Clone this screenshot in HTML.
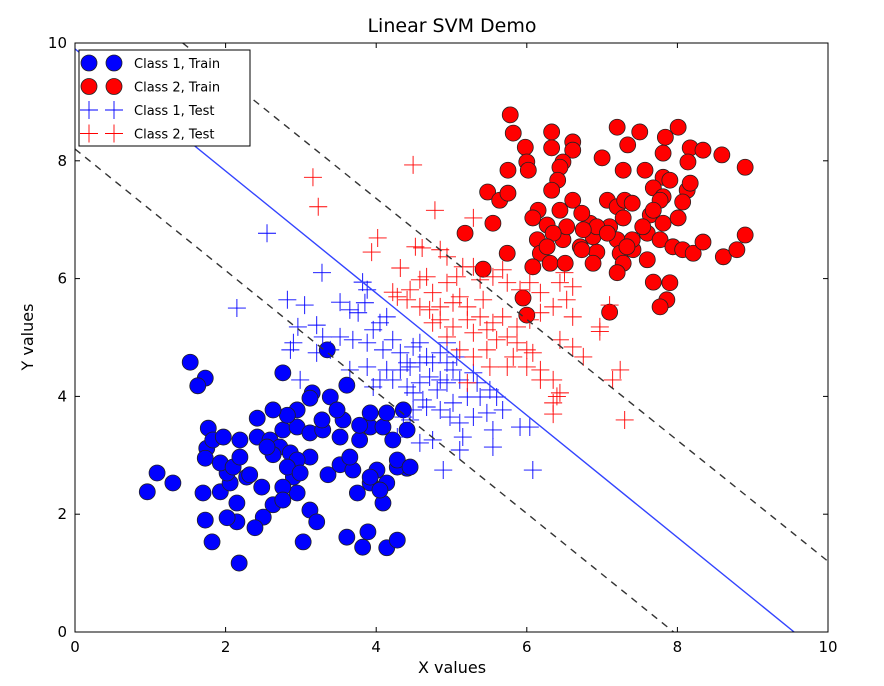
<!DOCTYPE html>
<html><head><meta charset="utf-8"><style>
body{margin:0;background:#fff;}
svg text{font-family:"DejaVu Sans","Liberation Sans",sans-serif;}
</style></head><body>
<svg id="chart" width="884" height="681" xmlns="http://www.w3.org/2000/svg">
<rect width="884" height="681" fill="#fff"/>
<g id="plot"></g>
<g id="axes"></g>
</svg>
<script>
const xTicks=[0,2,4,6,8,10];
const yTicks=[0,2,4,6,8,10];
const c1TrainX=[1.53,1.73,1.63,2.76,3.35,3.61,3.15,3.39,1.09,0.96,1.30,1.77,1.75,1.73,1.70,1.73,1.82,2.18,3.03,3.61,3.89,3.82,4.14,4.28,4.09,3.75,3.92,4.14,4.41,4.28,4.01,3.36,3.52,3.69,3.65,3.12,2.90,2.95,3.12,3.21,2.63,2.50,2.39,2.15,2.02,2.15,1.93,2.06,2.28,2.48,2.02,1.93,2.10,2.19,1.83,1.97,2.19,2.42,2.59,2.76,2.95,3.12,3.29,3.52,3.78,3.92,4.09,4.22,4.41,4.36,4.14,3.92,3.78,3.56,3.48,3.28,3.12,2.95,2.82,2.63,2.42,2.72,2.86,2.63,2.55,2.95,2.82,2.76,2.99,2.32,4.28,4.45,4.05,2.76,3.92];
const c1TrainY=[4.58,4.31,4.18,4.40,4.79,4.19,4.06,3.99,2.70,2.38,2.53,3.46,3.12,2.95,2.36,1.90,1.53,1.17,1.53,1.61,1.70,1.44,1.43,1.56,2.19,2.36,2.53,2.53,2.78,2.80,2.75,2.67,2.84,2.75,2.97,2.97,2.63,2.36,2.07,1.87,2.16,1.95,1.77,1.87,1.94,2.19,2.38,2.53,2.63,2.46,2.70,2.87,2.80,2.97,3.26,3.31,3.26,3.31,3.26,3.43,3.48,3.38,3.43,3.31,3.26,3.48,3.48,3.26,3.43,3.77,3.72,3.72,3.51,3.60,3.77,3.60,3.97,3.77,3.68,3.77,3.63,3.14,3.04,3.01,3.14,2.92,2.80,2.46,2.70,2.67,2.92,2.80,2.41,2.24,2.63];
const c2TrainX=[5.78,5.82,5.98,6.00,6.02,5.75,5.48,5.64,5.75,5.55,5.18,5.74,5.42,5.95,6.00,7.10,7.68,7.90,7.86,7.77,6.33,6.33,6.61,6.61,6.48,6.44,7.20,7.50,7.34,7.00,7.28,7.57,7.84,8.01,7.81,8.17,8.34,8.14,8.59,8.90,7.81,7.90,7.68,8.13,8.07,7.81,6.41,6.33,6.61,6.44,6.15,6.08,6.27,6.14,6.18,6.08,6.31,6.51,6.48,6.71,6.93,6.88,6.84,6.73,7.07,7.20,7.30,7.40,7.28,7.10,7.20,7.24,7.41,7.40,7.60,7.64,7.81,7.77,8.01,7.94,8.07,8.21,8.34,8.61,8.79,8.90,7.28,7.20,7.60,7.54,6.93,6.75,6.53,6.35,6.27,6.88,6.73,7.77,7.68,8.17,7.33,7.07];
const c2TrainY=[8.78,8.47,8.23,7.98,7.84,7.84,7.47,7.33,7.45,6.94,6.77,6.43,6.16,5.67,5.38,5.43,5.94,5.93,5.64,5.52,8.49,8.22,8.32,8.18,7.98,7.89,8.57,8.49,8.27,8.05,7.84,7.84,8.40,8.57,8.13,8.22,8.18,7.98,8.10,7.89,7.72,7.67,7.54,7.50,7.30,7.39,7.67,7.50,7.33,7.16,7.16,7.03,6.91,6.66,6.43,6.20,6.26,6.26,6.66,6.54,6.45,6.71,6.94,7.11,7.33,7.22,7.33,7.28,7.03,6.88,6.66,6.43,6.49,6.66,6.77,7.08,6.94,6.66,7.03,6.54,6.49,6.43,6.62,6.37,6.49,6.74,6.26,6.10,6.32,6.88,6.88,6.83,6.88,6.77,6.54,6.26,6.49,7.33,7.16,7.62,6.54,6.77];
const c1TestX=[2.55,3.28,3.82,2.82,3.05,2.96,3.21,2.86,3.52,3.65,3.76,3.85,3.88,4.05,4.14,3.96,3.52,3.69,3.88,4.09,4.22,4.32,4.49,4.58,4.41,4.45,4.67,4.75,4.85,4.94,5.02,4.85,4.71,4.58,4.41,4.22,4.05,3.96,3.88,4.14,4.81,4.94,5.11,5.29,5.34,5.51,5.60,5.38,5.21,5.02,4.85,4.67,4.49,4.36,4.49,4.62,4.98,5.11,5.15,5.55,5.55,5.91,6.04,6.08,4.89,5.11,4.75,4.58,4.28,4.45,5.29,5.47,5.68,4.94,4.58,4.32,5.07,3.39,2.90,3.29,3.21,2.99,3.65,2.15];
const c1TestY=[6.77,6.10,5.94,5.64,5.55,5.18,5.21,4.79,5.60,5.47,5.42,5.59,5.81,5.25,5.35,5.13,5.01,4.96,4.91,4.79,4.96,4.74,4.84,4.91,4.57,4.50,4.67,4.57,4.74,4.57,4.45,4.28,4.33,4.23,4.16,4.28,4.28,4.16,4.50,4.45,4.11,4.23,4.28,4.40,4.23,4.11,3.99,3.99,3.99,3.89,3.77,3.82,3.77,3.65,4.06,3.94,3.65,3.55,3.31,3.43,3.14,3.48,3.48,2.75,2.75,3.09,3.26,3.21,3.31,3.60,3.65,3.72,3.77,4.91,4.57,4.45,4.67,4.79,4.91,5.01,4.74,4.28,4.45,5.50];
const c2TestX=[4.49,3.16,3.23,4.78,4.02,3.94,4.52,4.61,4.85,4.94,5.29,4.32,4.22,4.28,4.45,4.58,4.67,4.75,4.94,5.07,5.15,5.29,5.38,5.55,5.68,5.74,5.91,6.04,6.18,6.44,6.61,6.35,6.18,6.04,5.87,5.68,5.55,5.38,5.21,5.02,4.85,4.71,4.85,5.02,5.21,5.29,5.47,5.60,5.74,5.87,6.00,5.82,5.74,6.00,6.18,6.18,6.35,6.44,6.35,6.75,6.97,6.61,7.14,6.08,5.47,5.29,5.11,4.94,4.75,4.58,4.41,5.11,5.42,6.53,6.61,6.44,5.51,5.21,7.30,7.24,6.97,6.35,6.40,7.10,6.50];
const c2TestY=[7.93,7.72,7.22,7.16,6.69,6.45,6.54,6.52,6.49,6.37,7.03,6.18,5.77,5.69,5.81,5.98,6.03,5.76,5.93,6.03,6.20,6.20,5.98,6.03,6.15,5.93,5.81,5.93,5.76,5.93,5.86,5.52,5.42,5.30,5.18,5.35,5.25,5.35,5.52,5.59,5.52,5.47,5.30,5.18,5.30,5.08,5.13,4.96,5.01,4.91,4.79,4.67,4.50,4.50,4.45,4.28,4.28,4.06,3.89,4.67,5.18,4.84,4.28,4.74,4.79,4.67,4.79,5.01,5.25,5.52,5.64,5.69,5.64,5.64,5.35,4.96,4.50,4.23,3.60,4.45,5.10,3.70,4.00,5.55,6.10];
// decision boundary lines: [x0,y0,x1,y1] in data units
const svmLine=[0,9.9,9.55,0];
const marginUpper=[1.43,10,10,1.2];
const marginLower=[0,8.2,7.95,0];

const X0=75,X1=828,Y0=632,Y1=43;
const sx=v=>X0+(v-0)/10*(X1-X0);
const sy=v=>Y0-(v-0)/10*(Y0-Y1);
const NS='http://www.w3.org/2000/svg';
const plot=document.getElementById('plot');
const axes=document.getElementById('axes');
function mk(tag,attrs,parent){const e=document.createElementNS(NS,tag);for(const k in attrs)e.setAttribute(k,attrs[k]);parent.appendChild(e);return e;}

const clip=mk('clipPath',{id:'cp'},plot);mk('rect',{x:X0,y:Y1,width:X1-X0,height:Y0-Y1},clip);
const g=mk('g',{'clip-path':'url(#cp)'},plot);

function circles(xs,ys,fill,name){xs.forEach((x,i)=>{const c=mk('circle',{cx:sx(x),cy:sy(ys[i]),r:8,fill:fill,stroke:'#222','stroke-width':0.8},g);

});}
function pluses(xs,ys,col,name){xs.forEach((x,i)=>{const px=sx(x),py=sy(ys[i]);const p=mk('path',{d:`M${px-9},${py}H${px+9}M${px},${py-9}V${py+9}`,stroke:col,'stroke-width':0.9,fill:'none'},g);

});}
function line(a,col,dash,name){const l=mk('line',{x1:sx(a[0]),y1:sy(a[1]),x2:sx(a[2]),y2:sy(a[3]),stroke:col,'stroke-width':1.4},g);if(dash)l.setAttribute('stroke-dasharray',dash);

}

circles(c1TrainX,c1TrainY,'#0000ff','class1-train-point');
circles(c2TrainX,c2TrainY,'#ff0000','class2-train-point');
pluses(c1TestX,c1TestY,'#0000ff','class1-test-point');
pluses(c2TestX,c2TestY,'#ff0000','class2-test-point');
line(svmLine,'#3344ff',null,'svm-boundary');
line(marginUpper,'#333','7,6','margin-upper');
line(marginLower,'#333','7,6','margin-lower');

const fr=mk('rect',{x:X0,y:Y1,width:X1-X0,height:Y0-Y1,fill:'none',stroke:'#000','stroke-width':1},axes);


xTicks.forEach(t=>{const x=sx(t);mk('line',{x1:x,y1:Y0,x2:x,y2:Y0-5,stroke:'#000'},axes);mk('line',{x1:x,y1:Y1,x2:x,y2:Y1+5,stroke:'#000'},axes);
const tx=mk('text',{x:x,y:Y0+20,'font-size':15,'text-anchor':'middle'},axes);tx.textContent=t;

});
yTicks.forEach(t=>{const y=sy(t);mk('line',{x1:X0,y1:y,x2:X0+5,y2:y,stroke:'#000'},axes);mk('line',{x1:X1,y1:y,x2:X1-5,y2:y,stroke:'#000'},axes);
const tx=mk('text',{x:X0-8,y:y+5,'font-size':15,'text-anchor':'end'},axes);tx.textContent=t;

});

// legend
const lg=mk('g',{},axes);


mk('rect',{x:79,y:50,width:171,height:96,fill:'#fff',stroke:'#000','stroke-width':1},lg);
const entries=[['circle','#0000ff','Class 1, Train'],['circle','#ff0000','Class 2, Train'],['plus','#0000ff','Class 1, Test'],['plus','#ff0000','Class 2, Test']];
entries.forEach((e,i)=>{const y=63+i*23.5;const eg=mk('g',{},lg);


[89,114].forEach(x=>{if(e[0]==='circle')mk('circle',{cx:x,cy:y,r:8,fill:e[1],stroke:'#222','stroke-width':0.8},eg);else mk('path',{d:`M${x-9},${y}H${x+9}M${x},${y-9}V${y+9}`,stroke:e[1],'stroke-width':0.9},eg);});
mk('line',{x1:89,y1:y,x2:114,y2:y,stroke:e[1],'stroke-width':0},eg);
const t=mk('text',{x:134,y:y+5,'font-size':13},eg);t.textContent=e[2];});
</script>
<svg style="position:absolute;left:0;top:0" width="884" height="681">
<text x="452" y="32" font-size="19" text-anchor="middle" font-family="DejaVu Sans, Liberation Sans, sans-serif">Linear SVM Demo</text>
<text x="452" y="673" font-size="16" text-anchor="middle" font-family="DejaVu Sans, Liberation Sans, sans-serif">X values</text>
<text x="0" y="0" font-size="16" text-anchor="middle" transform="translate(33,337) rotate(-90)" font-family="DejaVu Sans, Liberation Sans, sans-serif">Y values</text>
</svg>
</body></html>
